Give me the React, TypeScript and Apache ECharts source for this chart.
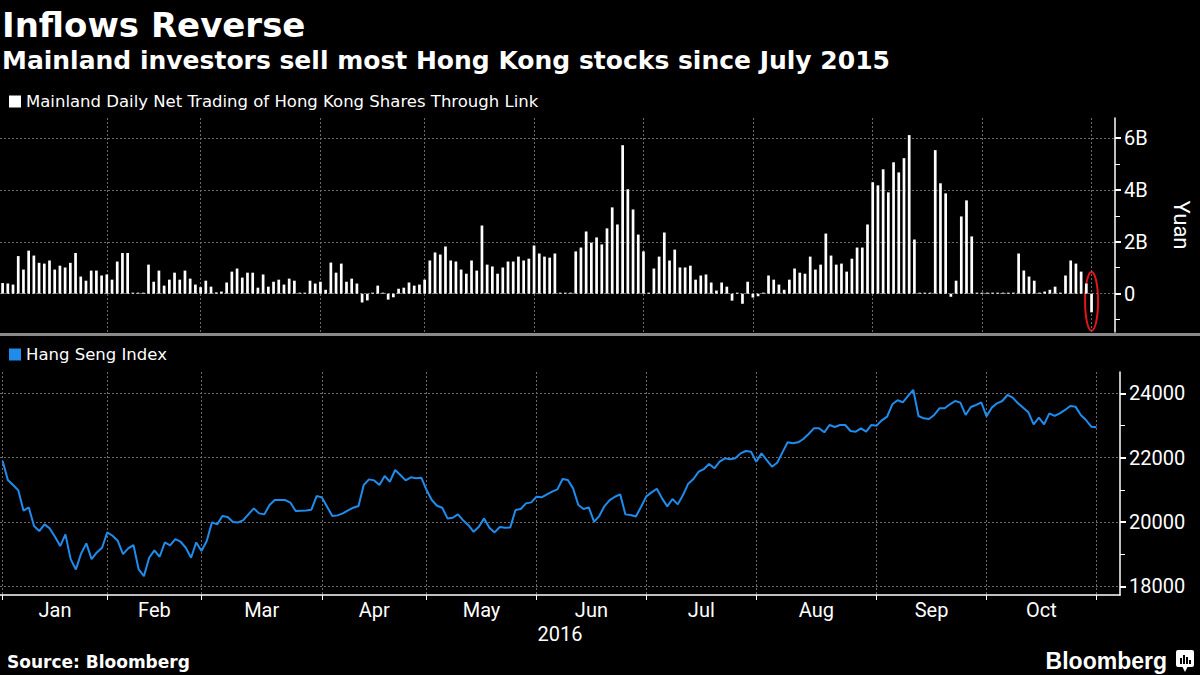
import React, { useEffect, useRef } from 'react';
import * as echarts from 'echarts';

// ---------- data ----------
const monthNames = ['Jan', 'Feb', 'Mar', 'Apr', 'May', 'Jun', 'Jul', 'Aug', 'Sep', 'Oct'];
// index (trading day) of the first session of each month
const monthStartIndex = [0, 20, 38, 61, 81, 102, 123, 144, 167, 188];
const lastIndex = 209;
const yearLabel = '2016';

const barSeriesName = 'Mainland Daily Net Trading of Hong Kong Shares Through Link';
const lineSeriesName = 'Hang Seng Index';

// billions of yuan
const netTradingYuanB = [
  0.41, 0.39, 0.35, 1.45, 0.93, 1.66, 1.47, 1.19, 1.16, 1.28,
  0.93, 1.08, 1.01, 1.19, 1.57, 0.66, 0.5, 0.89, 0.89, 0.7,
  0.74, 0.54, 1.24, 1.57, 1.57, 0, 0, 0, 1.12, 0.46,
  0.89, 0.31, 0.54, 0.81, 0.54, 0.89, 0.58, 0.35, 0.25, 0.5,
  0.27, 0.05, 0.08, 0.43, 0.85, 0.97, 0.62, 0.81, 0.81, 0.23,
  0.74, 0.27, 0.46, 0.54, 0.35, 0.58, 0.5, 0, 0, 0.5,
  0.39, 0.46, 0.15, 1.2, 0.81, 1.16, 0.46, 0.58, 0.39, -0.34,
  -0.26, 0.03, 0.31, 0, -0.23, -0.14, 0.19, 0.23, 0.43, 0.31,
  0.35, 0.54, 1.28, 1.59, 1.51, 1.82, 1.28, 1.24, 0.93, 0.77,
  1.28, 0.89, 2.63, 1.12, 1.05, 0.77, 1.01, 1.24, 1.24, 1.43,
  1.28, 1.35, 1.86, 1.55, 1.43, 1.39, 1.55, 0, 0, 0,
  1.63, 1.78, 2.4, 1.97, 2.17, 1.9, 2.52, 3.33, 2.67, 5.73,
  4.03, 3.25, 2.28, 1.63, 0, 0.97, 1.43, 2.36, 1.28, 1.7,
  1.01, 1.01, 1.08, 0.54, 0.7, 0.74, 0.43, 0.12, 0.43, 0.27,
  -0.27, 0.02, -0.39, 0.46, -0.15, -0.1, 0, 0.7, 0.54, 0.35,
  0.15, 0.54, 0.97, 0.81, 0.77, 1.43, 0.93, 1.12, 2.32, 1.47,
  1.12, 1.16, 0.85, 1.35, 1.78, 1.78, 2.67, 4.3, 4.18, 4.8,
  3.91, 5.07, 4.68, 5.23, 6.12, 2.09, 0, 0, 0, 5.54,
  4.26, 3.87, -0.12, 0.5, 2.98, 3.6, 2.21, 0, 0, 0,
  0, 0, 0, 0, 0, 1.55, 0.89, 0.66, 0.5, 0.04,
  0.08, 0.15, 0.27, 0, 0.7, 1.28, 1.16, 0.85, 0.39, -0.72,
];

const hangSengIndex = [
  21895, 21304, 21148, 20982, 20350, 20453, 19873, 19717, 19925, 19800,
  19541, 19250, 19614, 18846, 18525, 19022, 19334, 18846, 19053, 19199,
  19676, 19572, 19416, 19001, 19178, 19282, 18525, 18317, 18888, 19116,
  18919, 19365, 19271, 19468, 19386, 19199, 18888, 19365, 19095, 19406,
  19987, 19925, 20184, 20153, 20000, 19987, 20060, 20246, 20422, 20267,
  20236, 20526, 20682, 20682, 20682, 20599, 20339, 20350, 20360, 20381,
  20806, 20765, 20474, 20184, 20205, 20267, 20360, 20443, 20495, 21148,
  21324, 21293, 21148, 21428, 21252, 21615, 21459, 21293, 21387, 21356,
  21376, 20993, 20682, 20505, 20443, 20111, 20132, 20236, 20050, 19900,
  19696, 19852, 20111, 19821, 19676, 19842, 19821, 19831, 20370, 20402,
  20578, 20609, 20785, 20765, 20858, 20941, 21013, 21335, 21304, 21044,
  20526, 20402, 20453, 20008, 20184, 20495, 20682, 20785, 20858, 20236,
  20215, 20173, 20474, 20796, 20920, 21034, 20733, 20485, 20713, 20547,
  20837, 21190, 21335, 21563, 21646, 21802, 21667, 21874, 21978, 21947,
  21978, 22133, 22206, 22185, 21874, 22133, 21926, 21719, 21843, 22164,
  22476, 22445, 22476, 22579, 22735, 22911, 22911, 22787, 23015, 22953,
  23015, 23015, 22828, 22807, 22911, 22807, 23015, 22994, 23160, 23274,
  23658, 23782, 23720, 23917, 24104, 23295, 23222, 23201, 23326, 23533,
  23533, 23658, 23761, 23710, 23326, 23575, 23637, 23720, 23284, 23554,
  23689, 23761, 23948, 23865, 23689, 23554, 23409, 23036, 23243, 23036,
  23378, 23295, 23378, 23482, 23606, 23585, 23326, 23170, 22963, 22942,
];

const yuanLabelTicks = [0, 2, 4, 6];
const yuanMinorTicks = [-1, 1, 3, 5];
const hsiLabelTicks = [18000, 20000, 22000, 24000];
const hsiMinorTicks = [19000, 21000, 23000];

// ---------- derived tables ----------
const PAD_CATEGORIES = 4;
const categories: string[] = [];
for (let i = 0; i <= lastIndex + PAD_CATEGORIES; i++) {
  if (i > lastIndex) { categories.push(''); continue; }
  let m = 0;
  for (let k = 0; k < monthStartIndex.length; k++) if (monthStartIndex[k] <= i) m = k;
  categories.push(monthNames[m]);
}
const topSplitIdx = new Set<number>([...monthStartIndex.slice(1), lastIndex]);
const bottomTickIdx = new Set<number>([...monthStartIndex, lastIndex]);
const labelIdx = new Set<number>();
const labelHalf = new Set<number>();
monthStartIndex.forEach((s, k) => {
  const e = k + 1 < monthStartIndex.length ? monthStartIndex[k + 1] : lastIndex;
  const mid = (s + e) / 2;
  const f = Math.floor(mid);
  labelIdx.add(f);
  if (mid !== f) labelHalf.add(f);
});

const AXIS_FONT = 'Roboto';
const TEXT_FONT = 'DejaVu Sans';
const GRID_LINE = { color: '#6a6a6a', type: [2, 2] as number[], width: 1 };
const WHITE = '#ffffff';
const BLUE = '#1f8cec';

const GRID_LEFT = -1;
const GRID_RIGHT = 80;
const BAND = (1200 - GRID_LEFT - GRID_RIGHT) / categories.length;

const staticGraphic: any[] = [
  { type: 'rect', id: 'sep', silent: true, shape: { x: 0, y: 333, width: 1200, height: 3 }, style: { fill: '#8a8a8a' } },
  { type: 'text', id: 'title', x: 2, y: 25, style: { text: 'Inflows Reverse', fill: WHITE, fontSize: 34, fontWeight: 'bold', fontFamily: TEXT_FONT, verticalAlign: 'middle' } },
  { type: 'text', id: 'subtitle', x: 2, y: 60, style: { text: 'Mainland investors sell most Hong Kong stocks since July 2015', fill: WHITE, fontSize: 25, fontWeight: 'bold', fontFamily: TEXT_FONT, verticalAlign: 'middle' } },
  { type: 'text', id: 'source', x: 7, y: 662, style: { text: 'Source: Bloomberg', fill: WHITE, fontSize: 17, fontWeight: 'bold', fontFamily: TEXT_FONT, verticalAlign: 'middle' } },
  { type: 'text', id: 'brand', x: 1167, y: 661, style: { text: 'Bloomberg', fill: WHITE, fontSize: 23, fontWeight: 'bold', fontFamily: 'Liberation Sans', align: 'right', verticalAlign: 'middle' } },
  {
    type: 'group', id: 'logo', x: 1176, y: 650, children: [
      { type: 'rect', shape: { x: 0, y: 0, width: 18, height: 17, r: 2 }, style: { fill: WHITE } },
      { type: 'rect', shape: { x: 4, y: 8, width: 2, height: 6 }, style: { fill: '#000' } },
      { type: 'rect', shape: { x: 7, y: 5, width: 2, height: 9 }, style: { fill: '#000' } },
      { type: 'rect', shape: { x: 10, y: 7, width: 2, height: 7 }, style: { fill: '#000' } },
      { type: 'rect', shape: { x: 13, y: 10, width: 2, height: 4 }, style: { fill: '#000' } },
      { type: 'polygon', shape: { points: [[6, 16], [12, 16], [9, 22]] }, style: { fill: WHITE } },
    ],
  },
];

const option: any = {
  animation: false,
  backgroundColor: '#000',
  grid: [
    { left: GRID_LEFT, right: GRID_RIGHT, top: 118, height: 214 },
    { left: GRID_LEFT, right: GRID_RIGHT, top: 372, height: 223 },
  ],
  legend: [
    {
      data: [{ name: barSeriesName, icon: 'rect' }], left: 9, top: 93, padding: 0, itemWidth: 12, itemHeight: 12,
      selectedMode: false, textStyle: { color: WHITE, fontSize: 16.5, fontFamily: TEXT_FONT },
    },
    {
      data: [{ name: lineSeriesName, icon: 'rect' }], left: 9, top: 346, padding: 0, itemWidth: 12, itemHeight: 12,
      selectedMode: false, textStyle: { color: WHITE, fontSize: 16.5, fontFamily: TEXT_FONT },
    },
  ],
  xAxis: [
    {
      type: 'category', gridIndex: 0, data: categories, boundaryGap: true,
      axisLine: { show: false }, axisTick: { show: false }, axisLabel: { show: false },
      splitLine: { show: true, alignWithLabel: true, interval: (i: number) => topSplitIdx.has(i), lineStyle: GRID_LINE },
    },
    {
      type: 'category', gridIndex: 1, data: categories, boundaryGap: true,
      axisLine: { show: true, lineStyle: { color: WHITE, width: 1.5 } },
      axisTick: { show: true, alignWithLabel: true, interval: (i: number) => bottomTickIdx.has(i), length: 5, lineStyle: { color: WHITE, width: 1 } },
      splitLine: { show: true, alignWithLabel: true, interval: (i: number) => bottomTickIdx.has(i), lineStyle: GRID_LINE },
      axisLabel: {
        interval: (i: number) => labelIdx.has(i),
        hideOverlap: false,
        margin: 5,
        formatter: (v: string, i: number) => (labelHalf.has(i) ? `{h|${v}}` : `{n|${v}}`),
        rich: {
          n: { color: WHITE, fontSize: 20, fontFamily: AXIS_FONT },
          h: { color: WHITE, fontSize: 20, fontFamily: AXIS_FONT, padding: [0, 0, 0, BAND] },
        },
      },
      name: yearLabel, nameLocation: 'middle', nameGap: 29,
      nameTextStyle: { color: WHITE, fontSize: 20, fontFamily: AXIS_FONT },
    },
  ],
  yAxis: [
    {
      type: 'value', gridIndex: 0, position: 'right', min: -1.48, max: 6.78,
      axisLine: { show: true, lineStyle: { color: WHITE, width: 1.5 } },
      axisTick: { show: true, customValues: yuanLabelTicks, length: 6, lineStyle: { color: WHITE, width: 2 } },
      axisLabel: { customValues: yuanLabelTicks, formatter: (v: number) => (v === 0 ? '0' : `${v}B`), color: WHITE, fontSize: 20, fontFamily: AXIS_FONT, margin: 9 },
      splitLine: { show: true, lineStyle: GRID_LINE },
      name: 'Yuan', nameLocation: 'middle', nameRotate: -90, nameGap: 55,
      nameTextStyle: { color: WHITE, fontSize: 22, fontFamily: AXIS_FONT },
    },
    {
      type: 'value', gridIndex: 0, position: 'right', min: -1.48, max: 6.78,
      axisLine: { show: false }, axisLabel: { show: false }, splitLine: { show: false },
      axisTick: { show: true, customValues: yuanMinorTicks, length: 5, lineStyle: { color: WHITE, width: 1 } },
    },
    {
      type: 'value', gridIndex: 1, position: 'right', min: 17730, max: 24662,
      axisLine: { show: true, lineStyle: { color: WHITE, width: 1.5 } },
      axisTick: { show: true, customValues: hsiLabelTicks, length: 6, lineStyle: { color: WHITE, width: 2 } },
      axisLabel: { customValues: hsiLabelTicks, formatter: (v: number) => String(v), color: WHITE, fontSize: 20, fontFamily: AXIS_FONT, margin: 9 },
      splitLine: { show: true, lineStyle: GRID_LINE },
    },
    {
      type: 'value', gridIndex: 1, position: 'right', min: 17730, max: 24662,
      axisLine: { show: false }, axisLabel: { show: false }, splitLine: { show: false },
      axisTick: { show: true, customValues: hsiMinorTicks, length: 5, lineStyle: { color: WHITE, width: 1 } },
    },
  ],
  series: [
    {
      name: barSeriesName, type: 'bar', xAxisIndex: 0, yAxisIndex: 0, data: netTradingYuanB,
      barWidth: 2.7, barMinHeight: 1, itemStyle: { color: WHITE }, silent: true,
    },
    {
      name: lineSeriesName, type: 'line', xAxisIndex: 1, yAxisIndex: 2, data: hangSengIndex,
      showSymbol: false, symbol: 'none', itemStyle: { color: BLUE }, lineStyle: { color: BLUE, width: 2 }, silent: true,
    },
  ],
  graphic: staticGraphic,
};

export default function App() {
  const ref = useRef<HTMLDivElement>(null);
  useEffect(() => {
    if (!ref.current) return;
    const chart = echarts.init(ref.current, null, { renderer: 'svg', width: 1200, height: 675 });
    chart.setOption(option);
    const last = netTradingYuanB.length - 1;
    const pTop = chart.convertToPixel({ xAxisIndex: 0, yAxisIndex: 0 } as any, [last, 0.84]) as number[];
    const pBot = chart.convertToPixel({ xAxisIndex: 0, yAxisIndex: 0 } as any, [last, -1.43]) as number[];
    chart.setOption({
      graphic: [
        ...staticGraphic,
        {
          type: 'ellipse', id: 'highlight', silent: true,
          shape: { cx: pTop[0], cy: (pTop[1] + pBot[1]) / 2, rx: 6.5, ry: (pBot[1] - pTop[1]) / 2 },
          style: { fill: 'none', stroke: '#e3151a', lineWidth: 2 },
        },
      ],
    });
    return () => chart.dispose();
  }, []);
  return (
    <div
      ref={ref}
      style={{ position: 'absolute', left: 0, top: 0, width: 1200, height: 675, background: '#000' }}
    />
  );
}
